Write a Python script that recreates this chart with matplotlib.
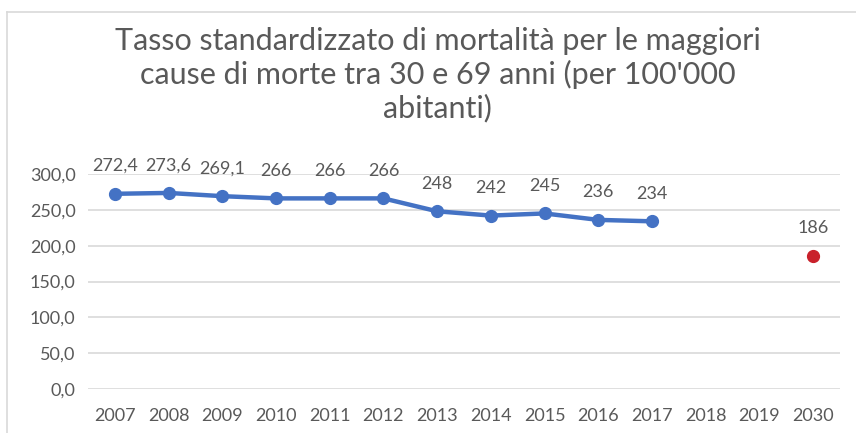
import numpy as np
import matplotlib
matplotlib.use("Agg")
import matplotlib.pyplot as plt
from matplotlib.lines import Line2D

plt.rcParams["font.family"] = ["Lato", "DejaVu Sans"]

years = ["2007", "2008", "2009", "2010", "2011", "2012", "2013",
         "2014", "2015", "2016", "2017", "2018", "2019", "2030"]
rates = [272.4, 273.6, 269.1, 266, 266, 266, 248, 242, 245, 236, 234]
target_year = "2030"
target_rate = 186
y_ticks = [0, 50, 100, 150, 200, 250, 300]

title = ("Tasso standardizzato di mortalità per le maggiori\n"
         "cause di morte tra 30 e 69 anni (per 100'000\n"
         "abitanti)")

text_color = "#595959"
line_color = "#4472C4"
red = "#C9212B"
grid_color = "#D9D9D9"


def fmt_label(v):
    return f"{v:g}".replace(".", ",")


fig = plt.figure(figsize=(8.56, 4.33), dpi=100)
ax = fig.add_axes([0.1028, 0.1016, 0.8785, 0.4965])

x = np.arange(len(years))
ax.plot(x[:len(rates)], rates, color=line_color, linewidth=3.2,
        marker="o", markersize=8.5, clip_on=False, solid_capstyle="round")
xi = years.index(target_year)
ax.plot([xi], [target_rate], "o", color=red, markersize=8.5, clip_on=False)

for xv, v in zip(x, rates):
    ax.annotate(fmt_label(v), (xv, v), xytext=(0, 20), textcoords="offset points",
                ha="center", va="center", fontsize=13, color=text_color)
ax.annotate(fmt_label(target_rate), (xi, target_rate), xytext=(0, 20),
            textcoords="offset points", ha="center", va="center",
            fontsize=13, color=text_color)

ax.set_xlim(-0.5, len(years) - 0.5)
ax.set_ylim(0, 300)
ax.set_xticks(x)
ax.set_xticklabels(years)
ax.set_yticks(y_ticks)
ax.set_yticklabels([f"{t:.1f}".replace(".", ",") for t in y_ticks])
ax.tick_params(axis="both", length=0, labelsize=13, colors=text_color)
ax.tick_params(axis="x", pad=14)
ax.tick_params(axis="y", pad=9)
ax.grid(axis="y", color=grid_color, linewidth=1.2)
ax.set_axisbelow(True)
for s in ax.spines.values():
    s.set_visible(False)

fig.text(0.511, 0.827, title, ha="center", va="center", fontsize=22,
         color=text_color, linespacing=1.2)

# chart frame (cropped on right and bottom)
fig.add_artist(Line2D([7 / 856, 7 / 856], [0, 1 - 12 / 433],
                      color=grid_color, linewidth=1.2))
fig.add_artist(Line2D([7 / 856, 1], [1 - 12 / 433, 1 - 12 / 433],
                      color=grid_color, linewidth=1.2))

fig.savefig("out.png", dpi=100)
